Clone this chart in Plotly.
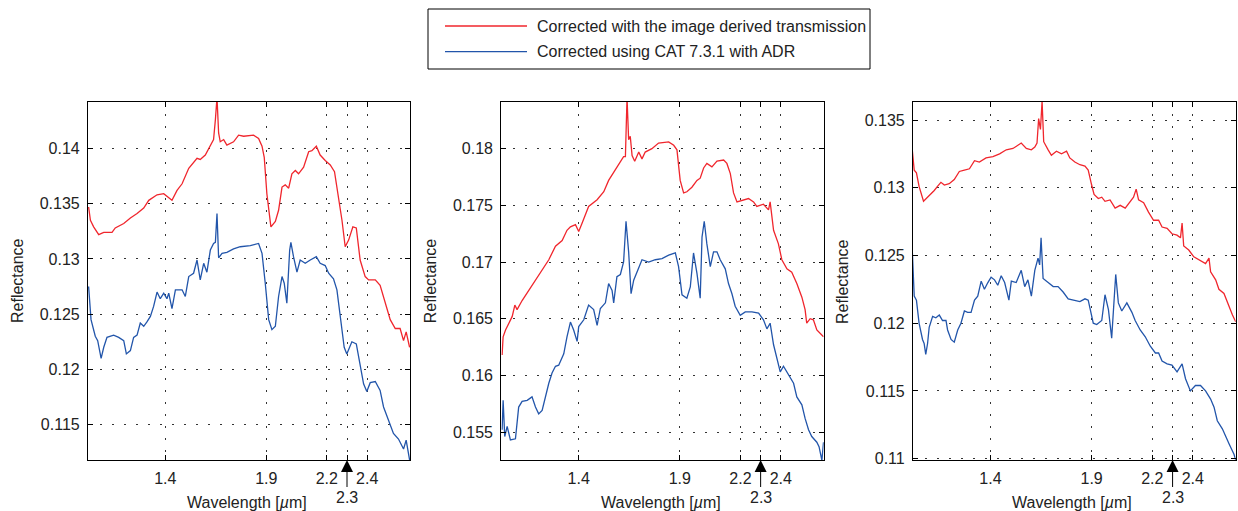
import plotly.graph_objects as go

# ---------------- data (wavelength in µm, reflectance) ----------------
p1_red_x = [1.020,1.029,1.045,1.070,1.095,1.136,1.152,1.194,1.227,1.260,1.293,1.318,1.359,1.392,1.433,1.458,1.483,1.516,1.557,1.573,1.598,1.623,1.639,1.648,1.656,1.664,1.672,1.689,1.705,1.738,1.763,1.788,1.837,1.862,1.879,1.890,1.903,1.923,1.945,1.961,1.978,1.994,2.011,2.027,2.044,2.060,2.085,2.110,2.126,2.148,2.167,2.192,2.217,2.238,2.258,2.275,2.291,2.308,2.329,2.346,2.365,2.390,2.407,2.440,2.464,2.489,2.514,2.539,2.563,2.580,2.593,2.610]
p1_red_y = [.1347,.1335,.1329,.1322,.1324,.1324,.1328,.1332,.1337,.1341,.1346,.1353,.1358,.1359,.1353,.1362,.1368,.1382,.1391,.1390,.1394,.1402,.1408,.1426,.1446,.1414,.1406,.1408,.1403,.1406,.1412,.1411,.1412,.1409,.1402,.1392,.1359,.1329,.1334,.1344,.1365,.1367,.1364,.1377,.1380,.1377,.1383,.1397,.1398,.1402,.1394,.1389,.1385,.1379,.1356,.1335,.1311,.1317,.1329,.1328,.1299,.1284,.1281,.1281,.1276,.1261,.1245,.1237,.1237,.1226,.1234,.1220]

p1_blue_x = [1.020,1.032,1.053,1.065,1.082,1.095,1.111,1.144,1.169,1.194,1.207,1.227,1.243,1.260,1.276,1.293,1.309,1.326,1.342,1.359,1.375,1.392,1.408,1.417,1.433,1.450,1.483,1.499,1.516,1.540,1.557,1.573,1.590,1.606,1.623,1.639,1.648,1.656,1.664,1.681,1.705,1.738,1.771,1.821,1.862,1.879,1.895,1.912,1.928,1.945,1.961,1.978,1.989,2.002,2.016,2.022,2.035,2.052,2.068,2.093,2.118,2.148,2.167,2.192,2.209,2.233,2.250,2.266,2.286,2.299,2.324,2.346,2.365,2.382,2.398,2.415,2.440,2.464,2.481,2.506,2.530,2.555,2.580,2.593,2.610]
p1_blue_y = [.1275,.1245,.1230,.1226,.1210,.1220,.1229,.1231,.1229,.1226,.1214,.1217,.1229,.1231,.1242,.1239,.1243,.1248,.1257,.1270,.1264,.1269,.1264,.1269,.1255,.1272,.1272,.1266,.1284,.1287,.1299,.1281,.1296,.1288,.1308,.1314,.1315,.1341,.1301,.1305,.1306,.1309,.1311,.1312,.1314,.1305,.1278,.1245,.1236,.1239,.1266,.1284,.1278,.1260,.1308,.1315,.1302,.1288,.1299,.1296,.1299,.1302,.1296,.1294,.1287,.1282,.1272,.1248,.1220,.1214,.1225,.1223,.1202,.1187,.1180,.1188,.1189,.1181,.1166,.1154,.1142,.1137,.1128,.1136,.1118]

p2_red_x = [1.021,1.026,1.038,1.054,1.071,1.084,1.095,1.120,1.153,1.186,1.219,1.252,1.285,1.318,1.342,1.359,1.384,1.400,1.416,1.449,1.491,1.524,1.548,1.581,1.606,1.622,1.631,1.639,1.647,1.655,1.664,1.677,1.697,1.713,1.729,1.762,1.795,1.845,1.870,1.886,1.902,1.919,1.935,1.960,1.985,2.001,2.018,2.034,2.059,2.084,2.117,2.133,2.150,2.166,2.183,2.215,2.240,2.265,2.281,2.314,2.339,2.347,2.364,2.388,2.405,2.430,2.454,2.479,2.504,2.520,2.528,2.545,2.561,2.578,2.594,2.611]
p2_red_y = [.1618,.1634,.1640,.1646,.1652,.1662,.1658,.1666,.1675,.1683,.1693,.1702,.1714,.1719,.1728,.1731,.1733,.1727,.1734,.1749,.1755,.1762,.1772,.1781,.1789,.1793,.1793,.1845,.1808,.1811,.1794,.1789,.1797,.1791,.1797,.1800,.1805,.1806,.1803,.1799,.1772,.1761,.1762,.1766,.1772,.1774,.1783,.1787,.1784,.1789,.1790,.1787,.1778,.1761,.1753,.1755,.1756,.1753,.1749,.1751,.1746,.1753,.1728,.1716,.1702,.1694,.1691,.1681,.1669,.1658,.1646,.1650,.1649,.1640,.1637,.1634]

p2_blue_x = [1.021,1.026,1.034,1.046,1.062,1.087,1.103,1.120,1.145,1.169,1.186,1.202,1.219,1.235,1.252,1.268,1.285,1.301,1.326,1.342,1.359,1.375,1.392,1.400,1.425,1.449,1.474,1.491,1.507,1.532,1.548,1.565,1.573,1.589,1.606,1.622,1.634,1.647,1.659,1.672,1.697,1.713,1.746,1.779,1.812,1.845,1.878,1.894,1.911,1.935,1.952,1.968,1.985,2.001,2.010,2.021,2.034,2.051,2.067,2.084,2.100,2.125,2.141,2.158,2.174,2.199,2.224,2.257,2.290,2.314,2.331,2.347,2.364,2.380,2.397,2.413,2.438,2.463,2.479,2.504,2.520,2.537,2.553,2.578,2.589,2.603,2.611]
p2_blue_y = [.1552,.1578,.1546,.1555,.1543,.1544,.1572,.1577,.1578,.1581,.1572,.1566,.1569,.1581,.1593,.1602,.1608,.1609,.1619,.1634,.1647,.1640,.1630,.1643,.1649,.1662,.1658,.1644,.1659,.1664,.1681,.1675,.1664,.1687,.1689,.1700,.1736,.1709,.1672,.1684,.1696,.1702,.1700,.1702,.1703,.1706,.1708,.1696,.1671,.1668,.1678,.1708,.1690,.1668,.1722,.1736,.1716,.1696,.1709,.1709,.1702,.1694,.1681,.1672,.1661,.1653,.1656,.1656,.1655,.1649,.1641,.1646,.1627,.1614,.1603,.1608,.1600,.1593,.1581,.1574,.1562,.1552,.1546,.1541,.1537,.1525,.1541]

p3_red_x = [1.014,1.023,1.034,1.047,1.069,1.089,1.105,1.122,1.138,1.155,1.172,1.196,1.221,1.246,1.271,1.296,1.321,1.345,1.378,1.412,1.445,1.478,1.511,1.552,1.577,1.602,1.619,1.630,1.638,1.647,1.655,1.663,1.685,1.701,1.726,1.751,1.776,1.792,1.817,1.842,1.867,1.883,1.900,1.912,1.933,1.950,1.966,1.991,2.016,2.041,2.066,2.090,2.107,2.120,2.132,2.157,2.181,2.206,2.231,2.248,2.273,2.297,2.322,2.339,2.347,2.355,2.380,2.405,2.430,2.463,2.480,2.488,2.513,2.529,2.554,2.571,2.596,2.612]
p3_red_y = [.1327,.1313,.1311,.1301,.1290,.1293,.1295,.1298,.1301,.1304,.1302,.1303,.1306,.1312,.1313,.1314,.1320,.1319,.1322,.1323,.1325,.1328,.1329,.1333,.1329,.1328,.1330,.1333,.1351,.1343,.1364,.1334,.1328,.1324,.1327,.1325,.1327,.1322,.1319,.1317,.1316,.1313,.1302,.1295,.1292,.1293,.1290,.1291,.1285,.1287,.1285,.1290,.1293,.1299,.1291,.1289,.1282,.1276,.1276,.1271,.1270,.1266,.1265,.1263,.1274,.1257,.1254,.1249,.1247,.1244,.1248,.1238,.1232,.1225,.1222,.1215,.1206,.1201]

p3_blue_x = [1.014,1.023,1.034,1.047,1.064,1.072,1.080,1.089,1.097,1.114,1.130,1.147,1.163,1.180,1.188,1.205,1.221,1.238,1.254,1.271,1.287,1.304,1.321,1.337,1.354,1.370,1.387,1.403,1.420,1.436,1.453,1.470,1.491,1.503,1.527,1.552,1.569,1.585,1.602,1.619,1.635,1.643,1.650,1.660,1.685,1.710,1.734,1.759,1.784,1.809,1.842,1.867,1.883,1.908,1.925,1.950,1.966,1.983,1.999,2.019,2.032,2.049,2.074,2.099,2.115,2.140,2.165,2.190,2.215,2.231,2.248,2.273,2.297,2.322,2.347,2.364,2.388,2.413,2.438,2.463,2.488,2.505,2.521,2.546,2.562,2.579,2.604,2.612]
p3_blue_y = [.1252,.1220,.1217,.1200,.1188,.1185,.1177,.1185,.1197,.1205,.1204,.1206,.1202,.1202,.1195,.1188,.1186,.1195,.1200,.1209,.1208,.1208,.1217,.1220,.1231,.1225,.1230,.1234,.1232,.1228,.1235,.1230,.1217,.1231,.1230,.1239,.1227,.1232,.1220,.1239,.1248,.1243,.1263,.1233,.1230,.1227,.1227,.1223,.1218,.1217,.1216,.1218,.1217,.1200,.1199,.1202,.1221,.1210,.1189,.1236,.1215,.1209,.1215,.1208,.1202,.1195,.1190,.1183,.1178,.1178,.1172,.1170,.1169,.1164,.1170,.1159,.1150,.1154,.1154,.1150,.1144,.1138,.1128,.1122,.1116,.1111,.1103,.1099]

x_tick_vals = [1.4, 1.9, 2.2, 2.3, 2.4]
x_tick_text = ["1.4", "1.9", "2.2", "", "2.4"]
y_ticks = [
    [0.115, 0.12, 0.125, 0.13, 0.135, 0.14],
    [0.155, 0.16, 0.165, 0.17, 0.175, 0.18],
    [0.11, 0.115, 0.12, 0.125, 0.13, 0.135],
]
y_ranges = [[0.1118, 0.1442], [0.15253, 0.18412], [0.1099, 0.13633]]
x_range = [1.017, 2.612]
series_names = ["Corrected with the image derived transmission",
                "Corrected using CAT 7.3.1 with ADR"]
x_title = "Wavelength [<i>µ</i>m]"
y_title = "Reflectance"
arrow_label = "2.3"

# ---------------- styling ----------------
W, H = 1238, 511
RED = "#f0262d"
BLUE = "#2255aa"
TXT = "#222222"
FONT = "Liberation Sans, Arial, sans-serif"
FS = 16

x_domains = [[88 / W, 410 / W], [501.3 / W, 823.7 / W], [913 / W, 1235.7 / W]]
y_domain = [1 - 460 / H, 1 - 102 / H]

panels = [
    (p1_red_x, p1_red_y, p1_blue_x, p1_blue_y),
    (p2_red_x, p2_red_y, p2_blue_x, p2_blue_y),
    (p3_red_x, p3_red_y, p3_blue_x, p3_blue_y),
]

fig = go.Figure()
layout = {}
annotations = []
for i, (rx, ry, bx, by) in enumerate(panels):
    n = "" if i == 0 else str(i + 1)
    fig.add_trace(go.Scatter(x=rx, y=ry, mode="lines", name=series_names[0],
                             line=dict(color=RED, width=1.3), xaxis="x" + n, yaxis="y" + n,
                             showlegend=False))
    fig.add_trace(go.Scatter(x=bx, y=by, mode="lines", name=series_names[1],
                             line=dict(color=BLUE, width=1.3), xaxis="x" + n, yaxis="y" + n,
                             showlegend=False))
    common = dict(showline=True, linecolor="black", linewidth=1.2, mirror="ticks",
                  ticks="inside", ticklen=5, tickcolor="black", automargin=False,
                  showgrid=True, gridcolor="#333333", gridwidth=1.2, griddash="2px,10px",
                  zeroline=False, tickfont=dict(family=FONT, size=FS, color=TXT))
    layout["xaxis" + n] = dict(common, domain=x_domains[i], range=x_range,
                               anchor="y" + n, tickmode="array",
                               tickvals=x_tick_vals, ticktext=x_tick_text,
                               ticklabelstandoff=4)
    layout["yaxis" + n] = dict(common, domain=y_domain, range=y_ranges[i],
                               anchor="x" + n, tickmode="array",
                               tickvals=y_ticks[i],
                               ticktext=[f"{v:g}" for v in y_ticks[i]],
                               ticklabelstandoff=4)
    # axis titles
    annotations.append(dict(xref="paper", yref="paper", x=x_domains[i][0], y=sum(y_domain) / 2,
                            xshift=-70, text=y_title, textangle=-90, showarrow=False,
                            xanchor="center", yanchor="middle",
                            font=dict(family=FONT, size=FS, color=TXT)))
    annotations.append(dict(xref="paper", yref="paper", x=sum(x_domains[i]) / 2 - 2 / W,
                            y=y_domain[0], yshift=-42, text=x_title, showarrow=False,
                            xanchor="center", yanchor="middle",
                            font=dict(family=FONT, size=FS, color=TXT)))
    # 2.3 arrow
    annotations.append(dict(xref="x" + n, yref="paper", x=2.3, y=y_domain[0],
                            text=arrow_label, showarrow=True, axref="pixel", ayref="pixel",
                            ax=0, ay=37, arrowhead=2, arrowsize=2.4, arrowwidth=1,
                            arrowcolor="black", standoff=0,
                            font=dict(family=FONT, size=FS, color=TXT)))

# legend box (drawn)
shapes = [
    dict(type="rect", xref="paper", yref="paper", x0=428 / W, x1=870 / W,
         y0=1 - 69 / H, y1=1 - 9 / H, line=dict(color="black", width=1), fillcolor="white"),
    dict(type="line", xref="paper", yref="paper", x0=445 / W, x1=527 / W,
         y0=1 - 26 / H, y1=1 - 26 / H, line=dict(color=RED, width=1.3)),
    dict(type="line", xref="paper", yref="paper", x0=445 / W, x1=527 / W,
         y0=1 - 51.7 / H, y1=1 - 51.7 / H, line=dict(color=BLUE, width=1.3)),
]
for k, yy in enumerate([26, 51.7]):
    annotations.append(dict(xref="paper", yref="paper", x=535 / W, y=1 - yy / H,
                            text=series_names[k], showarrow=False, xanchor="left",
                            yanchor="middle", font=dict(family=FONT, size=FS, color=TXT)))

fig.update_layout(**layout)
fig.update_layout(width=W, height=H, margin=dict(l=0, r=0, t=0, b=0, autoexpand=False),
                  paper_bgcolor="white", plot_bgcolor="white",
                  annotations=annotations, shapes=shapes, showlegend=False,
                  font=dict(family=FONT, size=FS, color=TXT))
fig.write_html("out.html", post_script="document.body.style.margin='0px';",
               config=dict(displayModeBar=False))
